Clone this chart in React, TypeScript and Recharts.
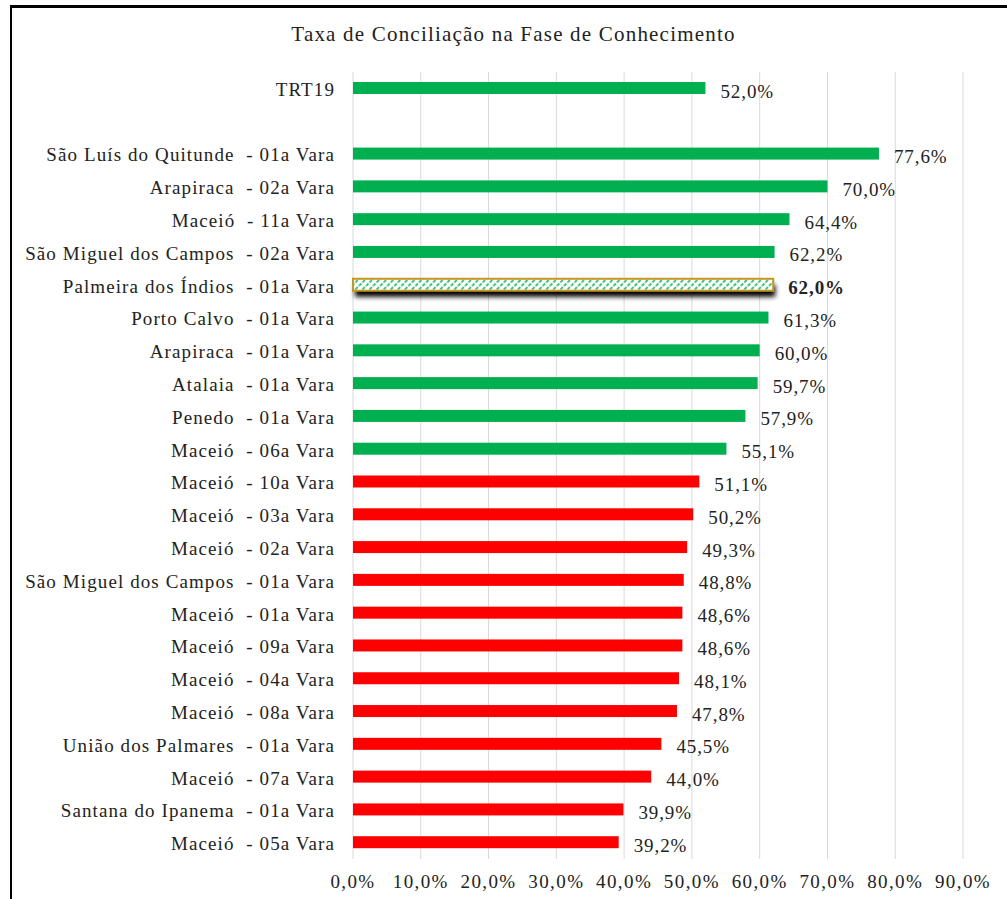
import React from "react";
import { BarChart, Bar, XAxis, YAxis, CartesianGrid, LabelList } from "recharts";

// categories top to bottom; "" is the empty spacer row under TRT19
const varas = [
  "TRT19",
  "",
  "São Luís do Quitunde  - 01a Vara",
  "Arapiraca  - 02a Vara",
  "Maceió  - 11a Vara",
  "São Miguel dos Campos  - 02a Vara",
  "Palmeira dos Índios  - 01a Vara",
  "Porto Calvo  - 01a Vara",
  "Arapiraca  - 01a Vara",
  "Atalaia  - 01a Vara",
  "Penedo  - 01a Vara",
  "Maceió  - 06a Vara",
  "Maceió  - 10a Vara",
  "Maceió  - 03a Vara",
  "Maceió  - 02a Vara",
  "São Miguel dos Campos  - 01a Vara",
  "Maceió  - 01a Vara",
  "Maceió  - 09a Vara",
  "Maceió  - 04a Vara",
  "Maceió  - 08a Vara",
  "União dos Palmares  - 01a Vara",
  "Maceió  - 07a Vara",
  "Santana do Ipanema  - 01a Vara",
  "Maceió  - 05a Vara",
];

const taxas: (number | null)[] = [
  52.0, null, 77.6, 70.0, 64.4, 62.2, 62.0, 61.3, 60.0, 59.7, 57.9, 55.1,
  51.1, 50.2, 49.3, 48.8, 48.6, 48.6, 48.1, 47.8, 45.5, 44.0, 39.9, 39.2,
];

const xTicks = [0, 10, 20, 30, 40, 50, 60, 70, 80, 90];

const destaque = "Palmeira dos Índios  - 01a Vara";
const referencia = 52.0; // taxa do TRT19

const VERDE = "#00B050";
const VERMELHO = "#FF0000";
const FONTE = "Liberation Serif, Times New Roman, DejaVu Serif, serif";

const dados = varas.map((nome, i) => ({ nome, taxa: taxas[i] }));

const fmt = (v: number) => v.toFixed(1).replace(".", ",") + "%";

// rótulo carrega o valor e se é a vara em destaque
const rotulo = (d: any) => (d.taxa == null ? null : { v: d.taxa, negrito: d.nome === destaque });

function BarraShape(props: any) {
  const { x, y, width, height, payload } = props;
  if (payload.taxa == null) return null;
  if (payload.nome === destaque) {
    return (
      <g>
        <rect x={x + 2} y={y + 6} width={width} height={height} fill="#000" filter="url(#sombra)" />
        <rect x={x} y={y} width={width} height={height} fill="url(#hachura)" stroke="#C8961E" strokeWidth={2} />
      </g>
    );
  }
  const cor = payload.taxa >= referencia ? VERDE : VERMELHO;
  return <rect x={x} y={y} width={width} height={height} fill={cor} />;
}

function RotuloValor(props: any) {
  const { x, y, width, height, value } = props;
  if (value == null || typeof value !== "object") return null;
  return (
    <text
      x={x + width + 15}
      y={y + height / 2 + 3}
      dominantBaseline="central"
      fontFamily={FONTE}
      fontSize={19}
      letterSpacing={0.9}
      fontWeight={value.negrito ? "bold" : "normal"}
      fill="#222"
    >
      {fmt(value.v)}
    </text>
  );
}

function TickVara(props: any) {
  const { x, y, payload } = props;
  return (
    <text
      x={x}
      y={y + 1}
      textAnchor="end"
      dominantBaseline="central"
      fontFamily={FONTE}
      fontSize={19}
      letterSpacing={1.1}
      fill="#222"
      style={{ whiteSpace: "pre" }}
    >
      {payload.value}
    </text>
  );
}

export default function App() {
  return (
    <div style={{ position: "absolute", left: 0, top: 0, width: 1007, height: 899, background: "#fff" }}>
      <div
        style={{
          position: "absolute",
          left: 10,
          top: 5,
          width: 997,
          height: 894,
          borderLeft: "2px solid #000",
          borderTop: "3px solid #000",
          boxSizing: "border-box",
        }}
      />
      <div
        style={{
          position: "absolute",
          left: 10,
          top: 22,
          width: 1007,
          textAlign: "center",
          fontFamily: FONTE,
          fontSize: 21,
          letterSpacing: 1.2,
          color: "#222",
        }}
      >
        Taxa de Conciliação na Fase de Conhecimento
      </div>
      <div style={{ position: "absolute", left: 0, top: 0 }}>
        <BarChart
          width={1007}
          height={899}
          data={dados}
          layout="vertical"
          margin={{ top: 72, right: 44, bottom: 10, left: 0 }}
          barSize={12}
        >
          <defs>
            <pattern id="hachura" width="5" height="5" patternUnits="userSpaceOnUse" patternTransform="rotate(45)">
              <rect width="5" height="5" fill="#fff" />
              <line x1="1" y1="0" x2="1" y2="3.5" stroke={VERDE} strokeWidth="1.5" />
            </pattern>
            <filter id="sombra" x="-10%" y="-100%" width="120%" height="300%">
              <feGaussianBlur stdDeviation="2.5" />
            </filter>
          </defs>
          <CartesianGrid horizontal={false} stroke="#d9d9d9" />
          <XAxis
            type="number"
            domain={[0, 90]}
            ticks={xTicks}
            tickFormatter={fmt}
            axisLine={false}
            tickLine={false}
            tickMargin={10}
            height={30}
            tick={{ fontFamily: FONTE, fontSize: 19, fill: "#222", letterSpacing: 1.4 }}
          />
          <YAxis
            type="category"
            dataKey="nome"
            width={353}
            interval={0}
            axisLine={false}
            tickLine={false}
            tickMargin={12}
            tick={<TickVara />}
          />
          <Bar dataKey="taxa" shape={<BarraShape />} isAnimationActive={false}>
            <LabelList dataKey={rotulo} content={<RotuloValor />} />
          </Bar>
        </BarChart>
      </div>
    </div>
  );
}
